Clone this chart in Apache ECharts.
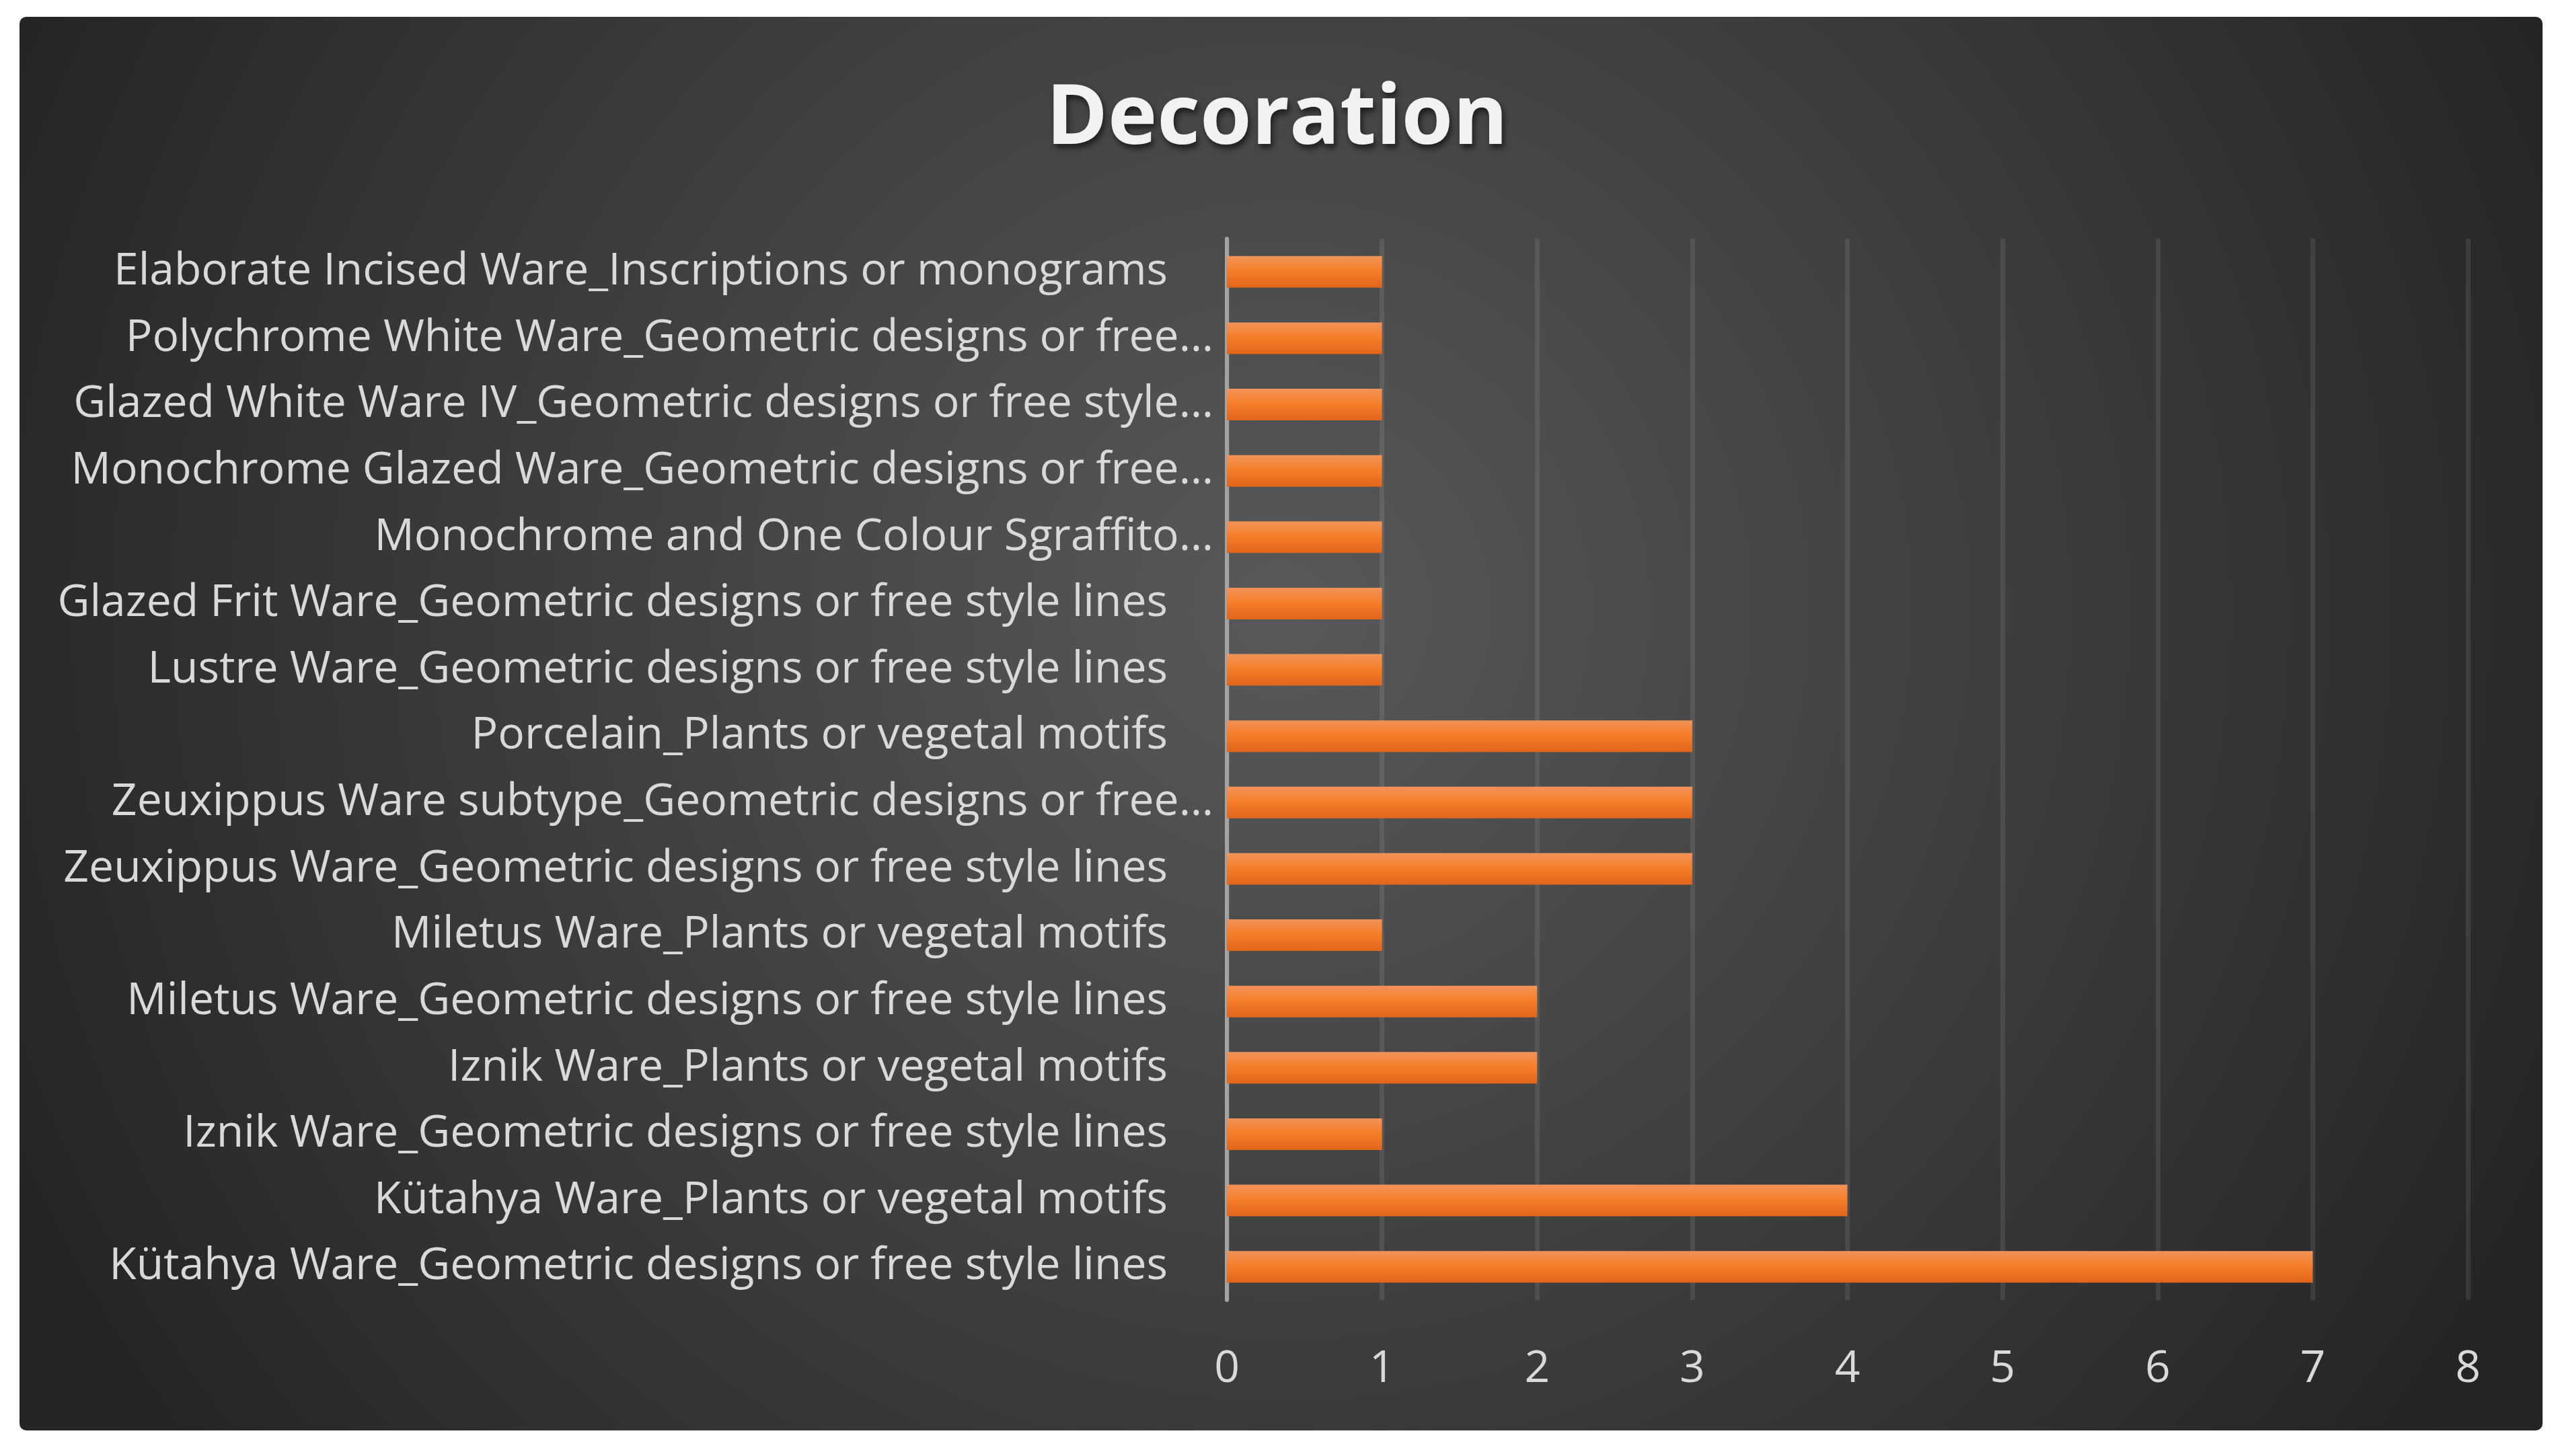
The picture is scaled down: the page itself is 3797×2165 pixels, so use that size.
<!DOCTYPE html>
<html>
<head>
<meta charset="utf-8">
<title>Decoration</title>
<script src="https://cdn.jsdelivr.net/npm/echarts@6/dist/echarts.min.js"></script>
<style>
  html, body { margin: 0; padding: 0; background: #ffffff; }
  #chart { width: 3797px; height: 2165px; }
</style>
</head>
<body>
<div id="chart"></div>
<script>
// categories listed bottom to top, as the category axis draws them
const categories = [
  'Kütahya Ware_Geometric designs or free style lines',
  'Kütahya Ware_Plants or vegetal motifs',
  'Iznik Ware_Geometric designs or free style lines',
  'Iznik Ware_Plants or vegetal motifs',
  'Miletus Ware_Geometric designs or free style lines',
  'Miletus Ware_Plants or vegetal motifs',
  'Zeuxippus Ware_Geometric designs or free style lines',
  'Zeuxippus Ware subtype_Geometric designs or free…',
  'Porcelain_Plants or vegetal motifs',
  'Lustre Ware_Geometric designs or free style lines',
  'Glazed Frit Ware_Geometric designs or free style lines',
  'Monochrome and One Colour Sgraffito…',
  'Monochrome Glazed Ware_Geometric designs or free…',
  'Glazed White Ware IV_Geometric designs or free style…',
  'Polychrome White Ware_Geometric designs or free…',
  'Elaborate Incised Ware_Inscriptions or monograms'
]
const counts = [7, 4, 1, 2, 2, 1, 3, 3, 3, 1, 1, 1, 1, 1, 1, 1]
const valueTicks = [0, 1, 2, 3, 4, 5, 6, 7, 8]

const labelFont = '"Open Sans", "DejaVu Sans", sans-serif'

const chart = echarts.init(document.getElementById('chart'))

const option = {
  backgroundColor: '#ffffff',
  graphic: [
    {
      type: 'rect',
      z: -10,
      silent: true,
      shape: { x: 29, y: 25, width: 3751, height: 2102, r: 10 },
      style: {
        fill: {
          type: 'radial',
          x: 0.5,
          y: 0.42,
          r: 1.0,
          colorStops: [
            { offset: 0, color: '#595959' },
            { offset: 1, color: '#242424' }
          ]
        }
      }
    }
  ],
  title: {
    text: 'Decoration',
    left: 'center',
    top: 112,
    textStyle: {
      color: '#f2f2f2',
      fontFamily: labelFont,
      fontWeight: 'bold',
      fontSize: 124,
      textShadowColor: 'rgba(0,0,0,0.6)',
      textShadowBlur: 10,
      textShadowOffsetX: 3,
      textShadowOffsetY: 6
    }
  },
  grid: {
    left: 1824,
    right: 128,
    top: 355,
    bottom: 232,
    containLabel: false
  },
  xAxis: {
    type: 'value',
    min: valueTicks[0],
    max: valueTicks[valueTicks.length - 1],
    interval: 1,
    axisLine: { show: false },
    axisTick: { show: false },
    axisLabel: {
      color: '#d9d9d9',
      fontFamily: labelFont,
      fontSize: 66,
      margin: 70
    },
    splitLine: {
      show: true,
      lineStyle: { color: 'rgba(255,255,255,0.09)', width: 7 }
    }
  },
  yAxis: {
    type: 'category',
    data: categories,
    axisLine: {
      show: true,
      lineStyle: { color: '#a3a3a3', width: 6 }
    },
    axisTick: { show: false },
    axisLabel: {
      color: '#d9d9d9',
      fontFamily: labelFont,
      fontSize: 66,
      margin: 20,
      // labels cut short by the original sit closer to the axis
      formatter: v => v.endsWith('…') ? '{t|' + v + '}' : '{n|' + v + '}',
      rich: {
        t: { color: '#d9d9d9', fontFamily: labelFont, fontSize: 66 },
        n: { color: '#d9d9d9', fontFamily: labelFont, fontSize: 66, padding: [0, 68, 0, 0] }
      }
    }
  },
  series: [
    {
      type: 'bar',
      data: counts,
      barWidth: 47,
      itemStyle: {
        color: {
          type: 'linear',
          x: 0, y: 0, x2: 0, y2: 1,
          colorStops: [
            { offset: 0, color: '#f1935a' },
            { offset: 0.45, color: '#f57f2b' },
            { offset: 1, color: '#e2651a' }
          ]
        },
        shadowColor: 'rgba(0,0,0,0.55)',
        shadowBlur: 14,
        shadowOffsetX: 4,
        shadowOffsetY: 14
      }
    }
  ]
}

chart.setOption(option)
</script>
</body>
</html>
